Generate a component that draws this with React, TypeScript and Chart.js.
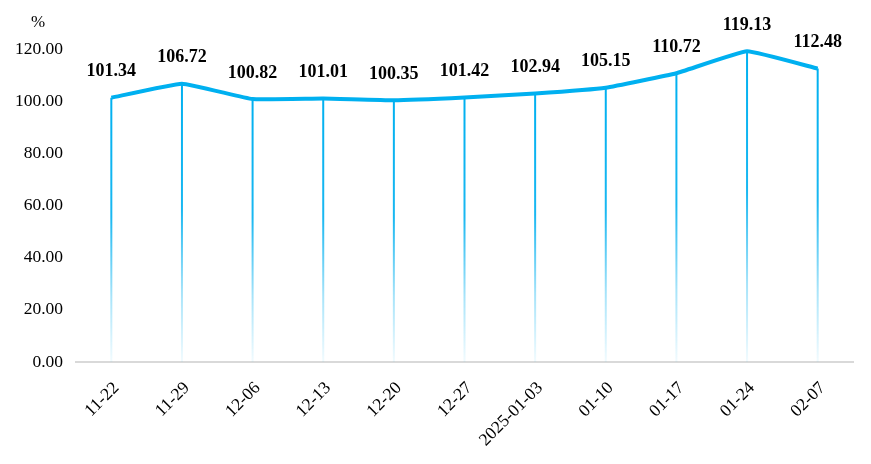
import React, { useEffect, useRef } from "react";
import { Chart, registerables } from "chart.js";

Chart.register(...registerables);

const categories = ["11-22", "11-29", "12-06", "12-13", "12-20", "12-27", "2025-01-03", "01-10", "01-17", "01-24", "02-07"];
const values = [101.34, 106.72, 100.82, 101.01, 100.35, 101.42, 102.94, 105.15, 110.72, 119.13, 112.48];
const yTicks = [0, 20, 40, 60, 80, 100, 120];

const LINE = "rgb(0,176,240)";
const FONT = "'Liberation Serif', 'Times New Roman', serif";

const dropLines = {
  id: "dropLines",
  beforeDatasetsDraw(chart: any) {
    const { ctx } = chart;
    const meta = chart.getDatasetMeta(0);
    const base = chart.scales.y.getPixelForValue(0);
    ctx.save();
    meta.data.forEach((pt: any) => {
      const g = ctx.createLinearGradient(0, pt.y, 0, base);
      g.addColorStop(0, "rgba(0,176,240,1)");
      g.addColorStop(0.45, "rgba(0,176,240,0.9)");
      g.addColorStop(0.75, "rgba(0,176,240,0.35)");
      g.addColorStop(1, "rgba(0,176,240,0.05)");
      ctx.strokeStyle = g;
      ctx.lineWidth = 2;
      ctx.beginPath();
      ctx.moveTo(pt.x, pt.y);
      ctx.lineTo(pt.x, base);
      ctx.stroke();
    });
    ctx.restore();
  },
};

const labelsPlugin = {
  id: "valueLabels",
  afterDatasetsDraw(chart: any) {
    const { ctx } = chart;
    const meta = chart.getDatasetMeta(0);
    ctx.save();
    ctx.font = `bold 18px ${FONT}`;
    ctx.fillStyle = "#000";
    ctx.textAlign = "center";
    ctx.textBaseline = "middle";
    meta.data.forEach((pt: any, i: number) => {
      ctx.fillText(values[i].toFixed(2), pt.x, pt.y - 26);
    });
    ctx.font = `17px ${FONT}`;
    ctx.fillText("%", 38, 23);
    ctx.restore();
  },
};

export default function App() {
  const ref = useRef<HTMLCanvasElement>(null);
  useEffect(() => {
    document.body.style.margin = "0";
    const chart = new Chart(ref.current!, {
      type: "line",
      data: {
        labels: categories,
        datasets: [
          {
            data: values,
            borderColor: LINE,
            borderWidth: 4,
            pointRadius: 0,
            tension: 0.1,
            fill: false,
          },
        ],
      },
      options: {
        animation: false,
        responsive: false,
        layout: { padding: { top: 49, right: 18, left: 0, bottom: 0 } },
        plugins: { legend: { display: false }, tooltip: { enabled: false } },
        scales: {
          x: {
            offset: true,
            grid: { display: false, drawTicks: false },
            border: { color: "#d9d9d9", width: 2 },
            afterFit(axis: any) {
              axis.height = 102;
            },
            ticks: {
              color: "#000",
              font: { family: FONT, size: 17.5 },
              maxRotation: 45,
              minRotation: 45,
              autoSkip: false,
              padding: 16,
              labelOffset: 5,
            },
          },
          y: {
            min: 0,
            max: 120,
            afterBuildTicks(axis: any) {
              axis.ticks = yTicks.map((v) => ({ value: v }));
            },
            afterFit(axis: any) {
              axis.width = 76;
            },
            grid: { display: false, drawTicks: false },
            border: { display: false },
            ticks: {
              color: "#000",
              font: { family: FONT, size: 17.5 },
              padding: 13,
              callback: (v: any) => Number(v).toFixed(2),
            },
          },
        },
      },
      plugins: [dropLines, labelsPlugin],
    });
    return () => chart.destroy();
  }, []);
  return <canvas ref={ref} width={871} height={464} style={{ display: "block" }} />;
}
